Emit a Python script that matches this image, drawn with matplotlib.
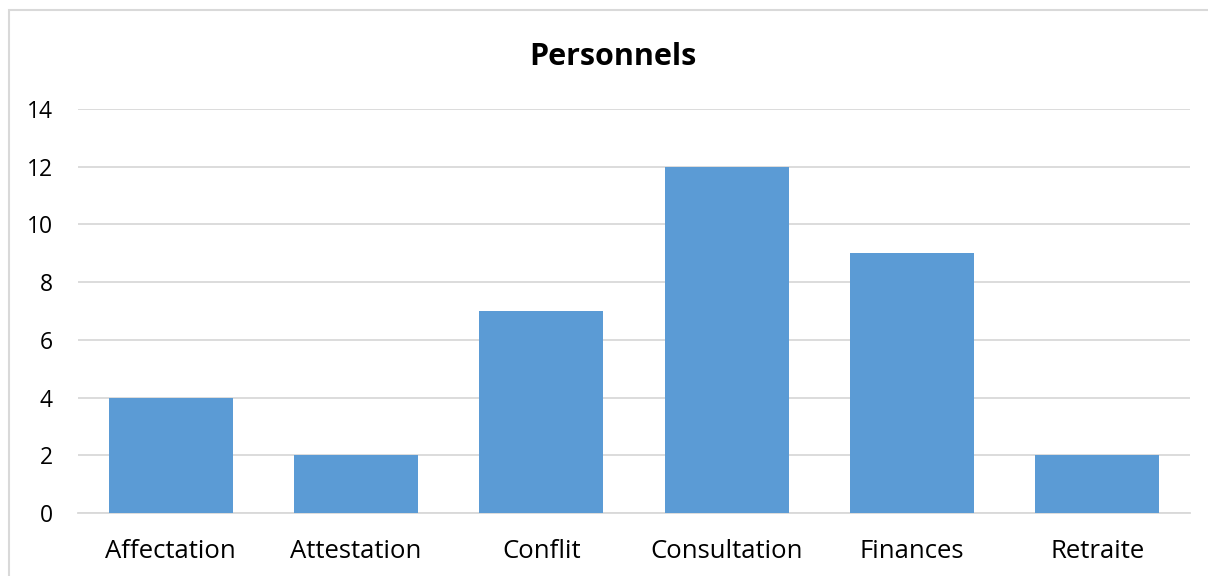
import matplotlib
matplotlib.use('Agg')
import matplotlib.pyplot as plt
from matplotlib.patches import Rectangle

# Data
categories = ['Affectation', 'Attestation', 'Conflit', 'Consultation', 'Finances', 'Retraite']
values = [4, 2, 7, 12, 9, 2]
yticks = [0, 2, 4, 6, 8, 10, 12, 14]

BAR = '#5B9BD5'
GRID = '#D9D9D9'
TEXT = '#000000'

W, H = 1208, 576
plt.rcParams['font.family'] = ['Open Sans', 'DejaVu Sans']

fig = plt.figure(figsize=(W / 100, H / 100), dpi=100)
ax = fig.add_axes([78 / W, 1 - 513 / H, (1190 - 78) / W, (513 - 109) / H])

x = range(len(categories))
ax.bar(x, values, width=0.67, color=BAR, zorder=3)

ax.set_xlim(-0.5, len(categories) - 0.5)
ax.set_ylim(0, 14)
ax.set_yticks(yticks)
ax.set_xticks(list(x))
ax.set_xticklabels(categories, fontsize=18.5)
ax.tick_params(axis='y', labelsize=16.5, length=0, pad=18, colors=TEXT)
ax.tick_params(axis='x', length=0, pad=19, colors=TEXT)

ax.grid(axis='y', color=GRID, linewidth=1.3, zorder=0)
for s in ['top', 'right', 'left']:
    ax.spines[s].set_visible(False)
ax.spines['bottom'].set_color(GRID)
ax.spines['bottom'].set_linewidth(1.3)

fig.text(613 / W, 1 - 57 / H, 'Personnels', fontsize=22, fontweight='bold',
         ha='center', va='center', color=TEXT)

# chart area border
fig.patches.append(Rectangle((9 / W, -0.1), 1.2, 1 - 10 / H + 0.1,
                             transform=fig.transFigure, fill=False,
                             edgecolor=GRID, linewidth=1.5))

fig.savefig('out.png', dpi=100, facecolor='white')
